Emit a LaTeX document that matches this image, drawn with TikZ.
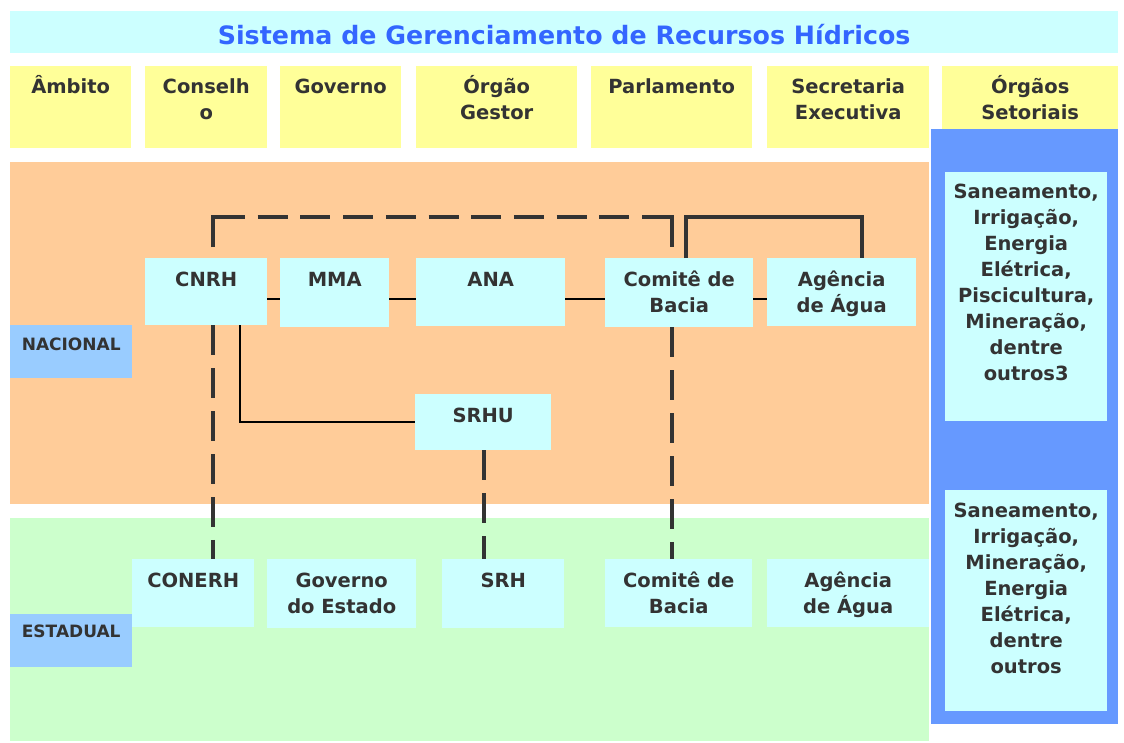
\documentclass[tikz,border=0pt]{standalone}
\usepackage{fontspec}
\setmainfont{DejaVu Sans}

\definecolor{ciano}{HTML}{CCFFFF}
\definecolor{amarelo}{HTML}{FFFF99}
\definecolor{laranja}{HTML}{FFCC99}
\definecolor{verde}{HTML}{CCFFCC}
\definecolor{azulclaro}{HTML}{99CCFF}
\definecolor{azul}{HTML}{6699FF}
\definecolor{azultitulo}{HTML}{3366FF}
\definecolor{cinza}{HTML}{333333}

\newcommand{\linhas}[1]{\begin{tabular}[t]{@{}c@{}}#1\end{tabular}}

\begin{document}
\begin{tikzpicture}[x=1pt, y=-1pt,
    caixa/.style={rectangle, inner sep=0pt, anchor=north west, fill=ciano},
    rotulo/.style={anchor=base, inner sep=0pt, yshift=-#1, text=cinza,
        font=\bfseries\fontsize{19.5}{26}\selectfont},
    rotulo/.default=28pt,
    fina/.style={line width=1.6pt, black},
    grossa/.style={line width=4pt, cinza},
    tracejado/.style={grossa, dash pattern=on 30pt off 12.9pt},
    tracejadoL/.style={grossa, dash pattern=on 62pt off 12.7pt on 30pt off 12.7pt
        on 30pt off 12.7pt on 30pt off 12.7pt on 30pt off 12.7pt on 30pt off 12.7pt
        on 30pt off 12.7pt on 30pt off 12.7pt on 30pt off 12.7pt on 30pt off 12.7pt
        on 60pt off 20pt}]

    \useasboundingbox (0,0) rectangle (1124,742);

    % Title bar
    \node[caixa, minimum width=1108pt, minimum height=42pt,
        label={[rotulo=33pt, text=azultitulo, font=\bfseries\fontsize{25.3}{30}\selectfont]north:Sistema de Gerenciamento de Recursos Hídricos}] (titulo) at (10,11) {};

    % Header row
    \foreach \nome/\x/\w/\txt in {ambito/10/121/{Âmbito}, conselho/145/122/{Conselh\\o},
        governo/280/121/{Governo}, gestor/416/161/{Órgão\\Gestor},
        parlamento/591/161/{Parlamento}, secretaria/767/162/{Secretaria\\Executiva},
        setoriais/942/176/{Órgãos\\Setoriais}} {
        \node[caixa, fill=amarelo, minimum width=\w pt, minimum height=82pt,
            label={[rotulo=27pt]north:\linhas{\txt}}] (\nome) at (\x,66) {};
    }

    % Level backgrounds
    \fill[laranja] (10,162) rectangle (929,504);
    \fill[verde] (10,518) rectangle (929,741);
    \fill[azul] (931,129) rectangle (1118,724);

    % Level labels
    \node[caixa, fill=azulclaro, minimum width=122pt, minimum height=53pt,
        label={[rotulo=25pt, font=\bfseries\fontsize{17}{20}\selectfont]north:NACIONAL}] (nacional) at (10,325) {};
    \node[caixa, fill=azulclaro, minimum width=122pt, minimum height=53pt,
        label={[rotulo=23pt, font=\bfseries\fontsize{17}{20}\selectfont]north:ESTADUAL}] (estadual) at (10,614) {};

    % Organs
    \foreach \nome/\x/\y/\w/\h/\txt in {cnrh/145/258/122/67/{CNRH}, mma/280/258/109/69/{MMA},
        ana/416/258/149/68/{ANA}, comite/605/258/148/69/{Comitê de\\Bacia},
        agencia/767/258/149/68/{Agência\\de Água}, srhu/415/394/136/56/{SRHU},
        conerh/132/559/122/68/{CONERH}, governoe/267/559/149/69/{Governo\\do Estado},
        srh/442/559/122/69/{SRH}, comitee/605/559/147/68/{Comitê de\\Bacia},
        agenciae/767/559/162/68/{Agência\\de Água}} {
        \node[caixa, minimum width=\w pt, minimum height=\h pt,
            label={[rotulo]north:\linhas{\txt}}] (\nome) at (\x,\y) {};
    }

    % Sectoral organs
    \node[caixa, minimum width=162pt, minimum height=249pt,
        label={[rotulo=26pt]north:\linhas{Saneamento,\\Irrigação,\\Energia\\Elétrica,\\Piscicultura,\\Mineração,\\dentre\\outros3}}] (setorn) at (945,172) {};
    \node[caixa, minimum width=162pt, minimum height=221pt,
        label={[rotulo=27pt]north:\linhas{Saneamento,\\Irrigação,\\Mineração,\\Energia\\Elétrica,\\dentre\\outros}}] (setore) at (945,490) {};

    % Line positions
    \coordinate (xa) at (213,0);
    \coordinate (xb) at (672,0);
    \coordinate (xc) at (484,0);
    \coordinate (xd) at (240,0);
    \coordinate (xe) at (686,0);
    \coordinate (xf) at (862,0);
    \coordinate (yl) at (0,299);
    \coordinate (yt) at (0,217);

    % Links along the national row
    \foreach \a/\b in {cnrh/mma, mma/ana, ana/comite, comite/agencia}
        \draw[fina] (\a.east |- yl) -- (\b.west |- yl);
    \draw[fina] (cnrh.south -| xd) |- (srhu.west);

    % Links CNRH - Comite and Comite - Agencia
    \draw[tracejadoL, shorten <=11pt, shorten >=11pt] (cnrh.north -| xa) |- (yt -| xb) -- (comite.north -| xb);
    \draw[grossa] (comite.north -| xe) |- (yt -| xf) -- (agencia.north -| xf);

    % Links national - state
    \draw[tracejado] (cnrh.south -| xa) -- (conerh.north -| xa);
    \draw[tracejado] (srhu.south -| xc) -- (srh.north -| xc);
    \draw[tracejado] (comite.south -| xb) -- (comitee.north -| xb);

\end{tikzpicture}
\end{document}
